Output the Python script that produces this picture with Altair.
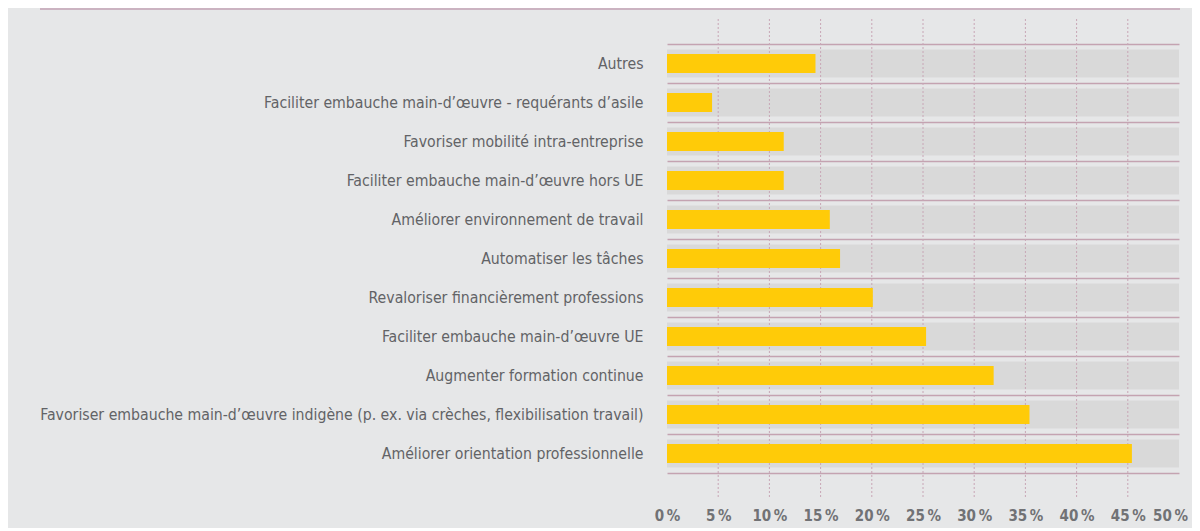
import altair as alt
import pandas as pd

categories = [
    "Autres",
    "Faciliter embauche main-d’œuvre - requérants d’asile",
    "Favoriser mobilité intra-entreprise",
    "Faciliter embauche main-d’œuvre hors UE",
    "Améliorer environnement de travail",
    "Automatiser les tâches",
    "Revaloriser financièrement professions",
    "Faciliter embauche main-d’œuvre UE",
    "Augmenter formation continue",
    "Favoriser embauche main-d’œuvre indigène (p. ex. via crèches, flexibilisation travail)",
    "Améliorer orientation professionnelle",
]
values = [14.5, 4.4, 11.4, 11.4, 15.9, 16.9, 20.1, 25.3, 31.9, 35.4, 45.4]
tick_values = [0, 5, 10, 15, 20, 25, 30, 35, 40, 45, 50]
grid_values = [5, 10, 15, 20, 25, 30, 35, 40, 45]
axis_max = 50

FONT = "DejaVu Sans Condensed"

df = pd.DataFrame({"cat": categories, "val": values, "full": [axis_max] * len(categories)})
grid_df = pd.DataFrame({"g": grid_values})
strip_df = pd.DataFrame({"k": [0]})

xscale = alt.Scale(domain=[0, axis_max], nice=False, zero=True)
xaxis = alt.Axis(
    values=tick_values, labelExpr="datum.value + '\u202f%'", title=None, grid=False,
    domain=False, ticks=False, labelPadding=35, labelFontSize=15,
    labelFontWeight="bold", labelColor="#717275", labelFont=FONT,
    labelOverlap=False, labelFlush=False,
    labelOffset={"condition": {"test": "datum.value == 50", "value": -9}, "value": 0},
)
yenc = alt.Y(
    "cat:N", sort=categories,
    scale=alt.Scale(domain=categories, paddingInner=0, paddingOuter=0),
    axis=alt.Axis(
        title=None, labelFont=FONT, labelFontSize=15.7,
        labelColor="#626366", labelPadding=24, ticks=False, domain=False,
        grid=True, gridColor="#c4a3b1", gridWidth=1.5, tickBand="extent", labelLimit=0,
    ),
)

strip = alt.Chart(strip_df).mark_rect(color="#cbb3c1").encode(
    x=alt.value(-627), x2=alt.value(513), y=alt.value(-36), y2=alt.value(-34)
)
bands = alt.Chart(df).mark_bar(color="#d9d9d9", height=28).encode(
    x=alt.X("full:Q", scale=xscale, axis=xaxis), y=yenc
)
grid = alt.Chart(grid_df).mark_rule(color="#c8a6b6", strokeDash=[2, 2], strokeWidth=1).encode(
    x=alt.X("g:Q", scale=xscale, axis=xaxis), y=alt.value(-25), y2=alt.value(453)
)
bars = alt.Chart(df).mark_bar(color="#ffcb08", height=19).encode(
    x=alt.X("val:Q", scale=xscale, axis=xaxis), y=yenc
)

chart = (
    alt.layer(strip, bands, grid, bars)
    .properties(
        width=512, height=429,
        padding={"left": 659, "top": 36, "right": 13, "bottom": 55},
        autosize=alt.AutoSizeParams(type="none"),
        background="#e6e7e8",
    )
    .configure_view(stroke=None)
)

chart.save("out.html", embed_options={"renderer": "svg", "actions": False})
